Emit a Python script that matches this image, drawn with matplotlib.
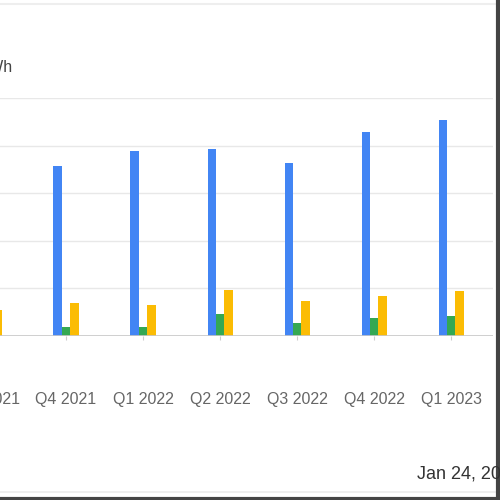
import matplotlib.pyplot as plt
from matplotlib.lines import Line2D
import numpy as np

# quarters (first one only partly visible in the crop)
quarters = ['Q3 2021', 'Q4 2021', 'Q1 2022', 'Q2 2022', 'Q3 2022', 'Q4 2022', 'Q1 2023']
blue_vals = [3.40, 3.58, 3.88, 3.92, 3.63, 4.28, 4.53]
green_vals = [0.20, 0.19, 0.19, 0.46, 0.27, 0.38, 0.42]
yellow_vals = [0.55, 0.69, 0.65, 0.96, 0.73, 0.84, 0.94]
y_ticks = [0, 1, 2, 3, 4, 5]

plt.rcParams['font.family'] = ['Liberation Sans', 'DejaVu Sans']

fig = plt.figure(figsize=(5, 5), dpi=100)
ax = fig.add_axes([-0.099, 0.328, 1.085, 0.476])

x = np.arange(len(quarters))
w = 0.105
ax.bar(x - 0.11, blue_vals, w, color='#4285F4', zorder=3)
ax.bar(x, green_vals, w, color='#34A853', zorder=3)
ax.bar(x + 0.11, yellow_vals, w, color='#FBBC04', zorder=3)

ax.set_xlim(-0.5, 6.545)
ax.set_ylim(0, 5)
ax.set_yticks(y_ticks)
ax.tick_params(axis='y', length=0, labelleft=False)
ax.grid(axis='y', color='#e8e8e8', linewidth=1, zorder=0)
ax.axhline(0, color='#c8c8c8', linewidth=1.2, zorder=4)
for s in ax.spines.values():
    s.set_visible(False)

ax.set_xticks(x)
ax.set_xticklabels(quarters, fontsize=11.5, color='#666666')
ax.tick_params(axis='x', length=3, color='#cccccc', pad=37)

# cut-off unit label and date caption
fig.text(0.026, 0.864, 'kWh', ha='right', va='center', fontsize=11.5, color='#444444')
fig.text(0.834, 0.052, 'Jan 24, 2024', ha='left', va='center', fontsize=13, color='#333333')

# frame lines of the cropped screenshot
fig.add_artist(Line2D([0, 0.99], [0.992, 0.992], color='#eeeeee', linewidth=1.5))
fig.add_artist(Line2D([0, 0.99], [0.016, 0.016], color='#eeeeee', linewidth=1.5))
fig.add_artist(Line2D([0.996, 0.996], [0, 1], color='#444444', linewidth=3))
fig.add_artist(Line2D([0, 1], [0.003, 0.003], color='#444444', linewidth=3))

fig.savefig('out.png', dpi=100)
